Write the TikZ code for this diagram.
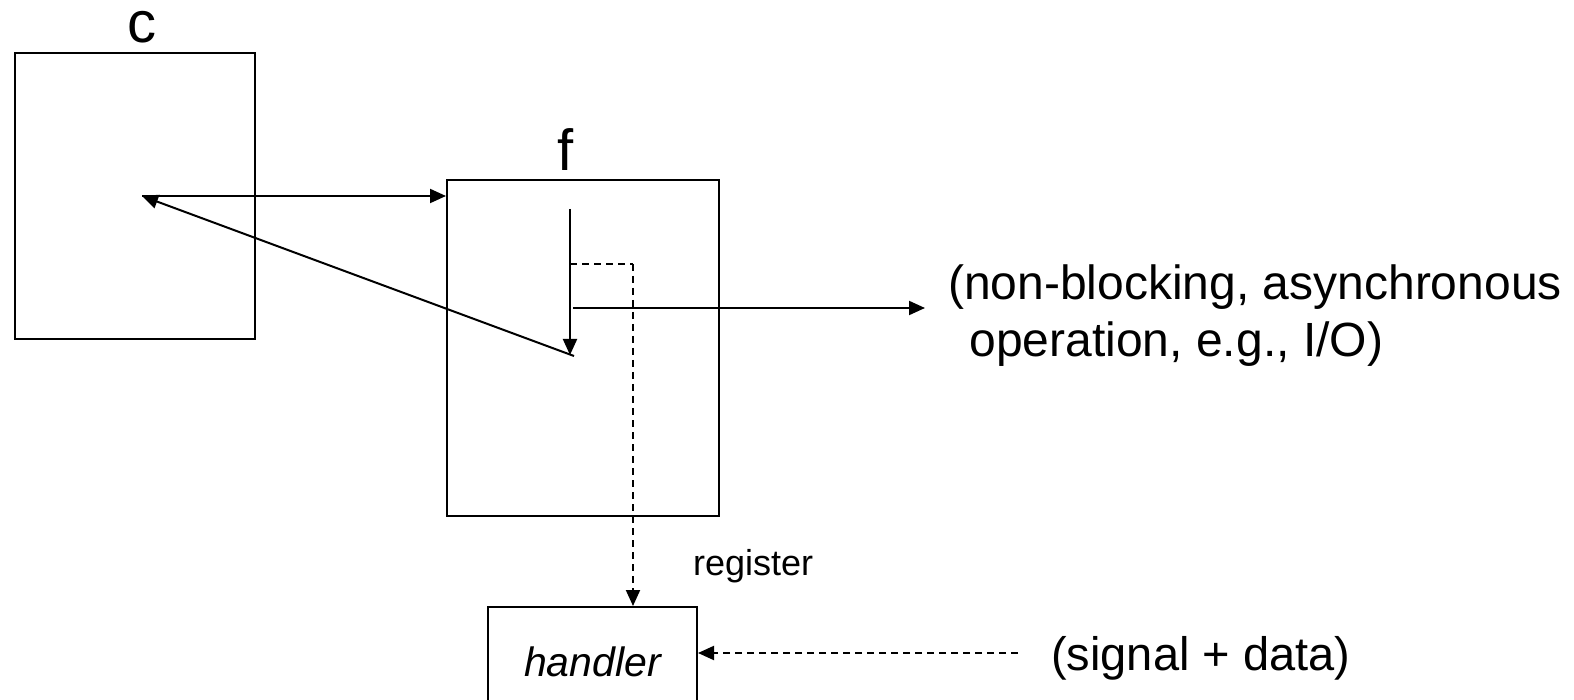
\documentclass[tikz,border=0pt]{standalone}
\usepackage{fontspec}
\setmainfont{Liberation Sans}
\usetikzlibrary{arrows.meta}

\tikzset{
  frame/.style={draw, line width=2pt, inner sep=0pt, anchor=north west},
  conn/.style={line width=2pt, -{Triangle[length=16pt,width=14pt]}},
  dashconn/.style={line width=2pt, dash pattern=on 7pt off 5pt, -{Triangle[length=16pt,width=14pt]}},
  dashplain/.style={line width=2pt, dash pattern=on 7pt off 5pt},
  bigtxt/.style={inner sep=0pt, anchor=base west, font=\fontsize{48}{55}\selectfont},
  lbl/.style={inner sep=0pt, anchor=base, font=\fontsize{58}{66}\selectfont},
}

\begin{document}
\begin{tikzpicture}[x=1pt, y=-1pt]
  \useasboundingbox (0,0) rectangle (1574,700);
  \clip (0,0) rectangle (1574,700);

  % caller and callee frames
  \node[frame, minimum width=240pt, minimum height=286pt] (cbox) at (14,52) {};
  \node[frame, minimum width=272pt, minimum height=336pt] (fbox) at (446,179) {};
  \node[lbl] (clbl) at (142,43) {c};
  \node[lbl] (flbl) at (566,171) {f};

  % handler frame, running off the bottom edge
  \node[draw, line width=2pt, inner sep=0pt, minimum width=209pt, minimum height=110pt,
        anchor=north west, font=\fontsize{41}{48}\selectfont\itshape] (hbox) at (487,606) {handler};

  % points inside the frames
  \coordinate (cin) at (142,196);
  \coordinate (ftop) at (570,209);
  \coordinate (fbot) at (570,355);
  \coordinate (fret) at (574,356);
  \coordinate (reg) at (570,264);
  \coordinate (regturn) at (633,264);
  \coordinate (opstart) at (573,308);
  \coordinate (opend) at (925,308);
  \coordinate (sigstart) at (1018,653);

  % call, control flow in f, and return
  \draw[conn] (cin) -- (cin -| fbox.west);
  \draw[conn] (ftop) -- (fbot);
  \draw[conn] (fret) -- (cin);
  \draw[conn] (opstart) -- (opend);

  % registering the handler and the incoming signal
  \draw[dashplain] (reg) -- (regturn);
  \draw[dashconn] (regturn) -- (regturn |- hbox.north);
  \draw[dashconn] (sigstart) -- (sigstart -| hbox.east);

  % labels
  \node[bigtxt] (ops1) at (948,300) {(non-blocking, asynchronous};
  \node[bigtxt] (ops2) at (956,357) {\ operation, e.g., I/O)};
  \node[inner sep=0pt, anchor=base west, font=\fontsize{36}{43}\selectfont] (reglbl) at (693,575) {register};
  \node[bigtxt, font=\fontsize{47}{55}\selectfont] (sig) at (1051,670) {(signal + data)};
\end{tikzpicture}
\end{document}
